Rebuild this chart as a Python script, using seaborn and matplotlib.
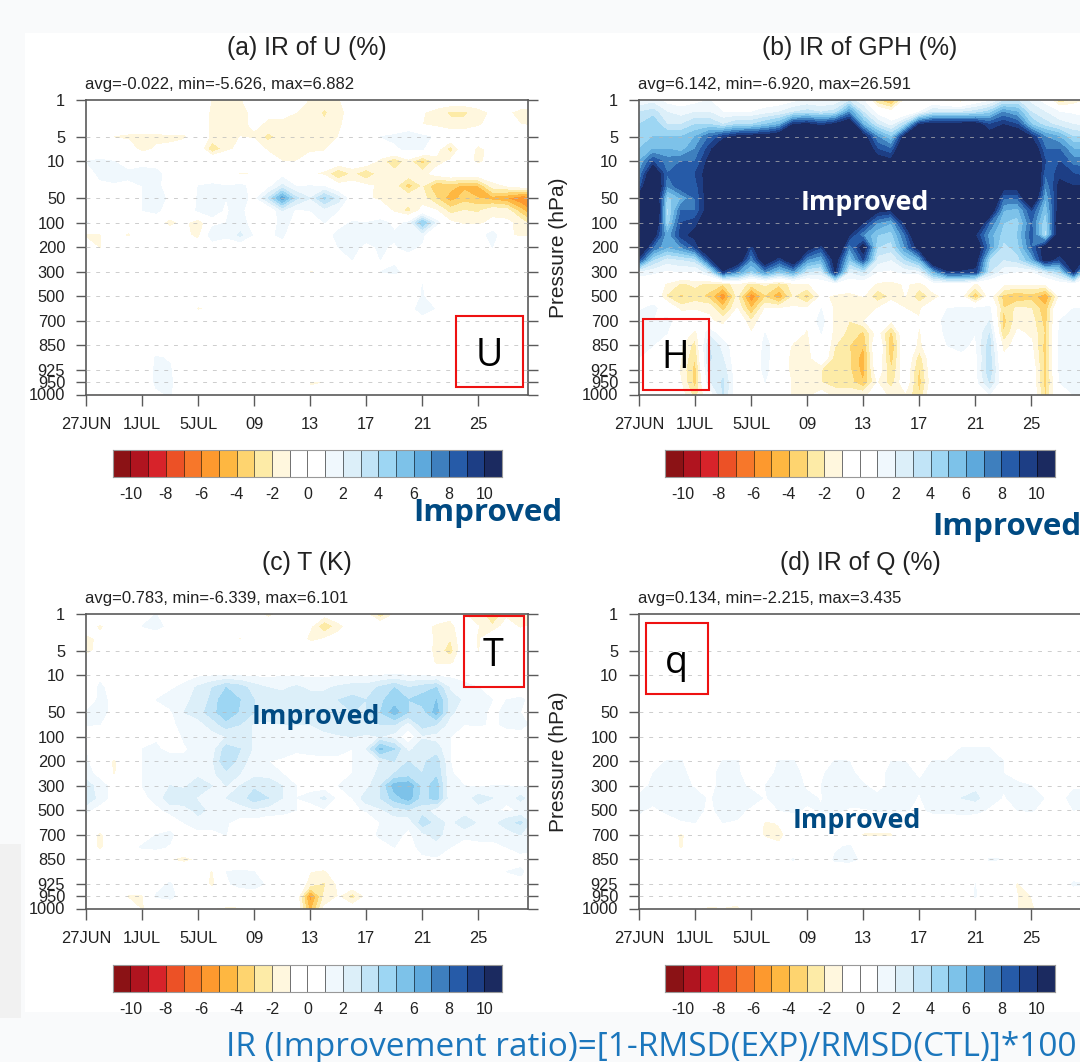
import numpy as np
import matplotlib
matplotlib.use('Agg')
import matplotlib.pyplot as plt
from matplotlib.colors import ListedColormap
from matplotlib.patches import Rectangle
import seaborn as sns

# axes values
pressure = [1, 2, 3, 5, 7, 10, 20, 30, 50, 70, 100, 150, 200, 250, 300, 400, 500, 600, 700, 800, 850, 900, 925, 950, 1000]
pressure_ticks = [1, 5, 10, 50, 100, 200, 300, 500, 700, 850, 925, 950, 1000]
days = list(range(33))
day_ticks = [0, 4, 8, 12, 16, 20, 24, 28]
day_labels = ['27JUN', '1JUL', '5JUL', '09', '13', '17', '21', '25']

# colour bar
bounds = list(range(-10, 11))
bar_labels = list(range(-10, 11, 2))
bar_colors = ['#8b1215', '#b0141f', '#d7232a', '#ec5126', '#f7772a', '#fd992e', '#feb741', '#fed46f',
              '#fdeba7', '#fff7de', '#ffffff', '#ffffff', '#f0f8fd', '#dceff9', '#c1e4f7', '#9dd6f3',
              '#7dc2e9', '#5ea9dc', '#3e7fbe', '#265ba8', '#1d3e85', '#1b2a60']

# improvement ratio, one row per pressure level, one column per day
ir_u = [
    [0,0,0,0,0,0,0,0,0,-1.1,-1.3,-1.2,0,0,0,0,-1.2,-1.4,-1.2,0,0,0,0,0,0,0,0,0,0,0,0,0,0],
    [0,0,0,0,0,0,0,0,0,-1.3,-1.5,-1.3,-.8,-.8,-.8,-1,-1.4,-2.2,-1.4,-.5,0,0,0,0,-.9,-1.5,-2.2,-2.2,-1.5,-.8,-.8,-1.4,-1.4],
    [0,0,0,0,0,0,0,0,0,-1.3,-1.3,-1.3,-.8,-1.2,-1.2,-1.2,-1.4,-1.8,-1.2,-.5,0,0,0,0,-1,-1.4,-1.7,-1.7,-1.2,-.5,-.5,-1,-1.2],
    [0,0,-1.1,-1.3,-1.4,-1.4,-1.2,-1.3,0,-1.3,-1.4,-1,-1.2,-2.4,-1.5,-1.3,-1.3,-1.3,-1,0,1,1,1.2,1.7,1.3,.8,0,0,0,-1,0,0,.6],
    [.8,0,0,0,-1.6,-.8,-.8,0,0,-3,-1.5,-.5,0,-1.3,-1.3,-1.2,-1.2,-1.2,0,0,0,.5,.8,1.2,1.1,-.5,-2.6,0,-1.4,-.5,-1,0,0],
    [1,1.2,1,.5,.8,.5,0,0,.6,.8,1,.9,.5,0,-1,-1,-.5,0,0,0,0,-1.5,-3,-1.5,-3.5,-1.5,-.8,-.5,-1.3,-.5,0,.8,.8],
    [.5,1.2,1.5,1.2,1.2,1.3,.5,0,0,0,0,-1.3,-1,0,.5,.5,-.8,-1.3,-3.2,-1.8,-3,-1.5,-1.5,-1.3,-1.5,-.5,0,0,0,0,0,.5,1.2],
    [.5,.8,.8,.8,1,1.1,.8,.5,1,1.2,1,1.3,.5,.5,2.2,.9,1,.8,-.5,-.5,-.8,-1.2,-1.6,-3.6,-2,-4,-3.6,-4.3,-4,-1.5,-1,-.5,0],
    [0,0,0,.6,1,1.4,.8,0,1.1,1.6,1,1.6,.5,3,6.5,3.2,2,4.2,2.5,0,-.8,-1.3,-1.5,-1.2,-1.6,-3,-4.6,-3.5,-4,-4.5,-5,-6,-6],
    [0,0,0,0,1,1.4,0,0,1.2,1.5,.8,1.7,-1,-.5,2,.8,1,1.5,1,0,0,0,-1.3,-2.5,-.6,-1,-2.5,-2,-2.2,-1.3,-1.5,-3.6,-5.5],
    [1.2,0,0,0,0,-.5,-1.5,-.6,-2,.5,1,1.4,.5,0,1.5,.5,.5,1,.5,1.1,1,1.3,.8,1.1,5,1.5,-.8,-1.2,-1.2,-.8,-.8,-1.3,-3],
    [-1.3,-1.1,0,-1.3,0,0,0,-.5,-1.6,2,1.3,2.2,.8,.8,1.2,0,0,.5,1.3,1.5,1.3,1.7,1.1,1.2,1.3,-1.2,.5,0,0,1.8,-.8,-1.2,-1.1],
    [0,-1.2,.5,0,0,.8,0,0,0,0,0,0,.5,.9,.5,0,-.8,0,1,1.2,.8,1.1,.9,1.3,.8,.5,0,0,.5,1,0,0,0],
    [0,0,0,0,0,0,.9,0,0,.5,0,0,.8,0,0,0,-.5,-.8,.5,1,.5,1,.9,.5,.5,.5,0,0,0,1,.5,0,0],
    [0,0,0,0,0,0,1,0,.5,1,0,0,0,0,0,0,-1.1,-.8,0,.6,.6,1,1.1,.8,1,.8,.5,.5,.8,0,0,-.6,0],
    [0,0,0,0,0,0,.5,0,.5,.5,0,.5,1,.5,0,0,0,0,.5,.9,.5,0,.5,.5,1,.6,0,0,0,0,-.5,-.8,0],
    [1,0,0,0,0,0,0,0,0,0,0,0,0,0,0,0,0,.5,0,.5,.5,0,-1,0,1.1,0,0,-.9,0,0,0,0,0],
    [0,0,0,.5,0,.5,0,0,-1.2,-.7,0,0,0,0,0,0,.5,.9,.5,.5,0,0,.5,.5,1.5,.9,0,0,0,0,0,0,0],
    [0,0,0,.8,0,0,0,-.8,0,0,0,0,0,0,0,0,.9,.7,0,0,-1.1,0,0,.9,.5,.9,0,0,0,0,0,0,0],
    [0,0,0,.7,0,0,0,0,0,0,0,0,0,0,0,0,0,0,0,0,0,0,0,0,0,.6,.7,0,0,0,0,0,0],
    [0,0,0,0,0,0,0,0,0,0,0,0,0,0,0,0,0,0,0,0,0,0,0,0,0,0,0,0,0,0,0,0,0],
    [0,0,0,0,0,1.1,.9,0,0,0,0,0,0,0,0,-.9,0,0,0,0,0,0,0,0,0,0,0,0,0,0,0,0,0],
    [0,-.9,0,0,0,1.2,1.1,0,0,0,0,0,0,0,0,-.9,0,0,0,0,0,0,0,0,0,0,0,0,0,0,0,0,0],
    [0,-.9,0,0,0,1.2,1.2,0,0,0,0,0,0,0,0,0,-1.1,-1,0,0,0,0,0,0,0,0,0,0,0,0,0,0,0],
    [0,-1.1,0,0,0,.8,1.1,0,0,0,0,0,0,0,0,0,-.8,0,0,0,0,0,0,0,0,0,0,0,0,0,0,0,0],
]

ir_gph = [
    [1,1.5,.5,.3,.5,1,.5,-.5,-1.2,0,0,.5,1,.8,1,2.5,1,-3,-4.5,-.8,-.5,-.5,-1.6,-1.8,-.3,.5,2.5,3,1.5,.3,-3,-2,-1],
    [3,3.5,2,1.5,2,2,1,1,1,1.5,2,3,3.5,3,3.5,7,3,.5,-.5,-.5,1,3,3,3,3.5,4.5,7,6,3,2,1,.8,.5],
    [4,5,3,3,4,4,3,4,4,5,6,10,10.5,9.5,10.5,12,6,3,1.5,4,10,11,11,11,11,9,10,9,5,3.5,2.5,2,1.5],
    [4.5,5,5,5,6,8,9.5,10.5,11,11,12,14,14,14,14,15,11,7,5,11,15,15,15,15,14,11,12,12,10,7,6,4,4],
    [5,6,6,5.5,7,9.5,12,13,14,14,15,16,16,16,16,15,12,9,8,13,16,16,16,16,15,15,15,14,12,8,8,6,6],
    [6,9,7.5,8,8,10.5,14,15,16,16,16,16,17,17,17,16,14,11,10.5,15,17,17,17,17,16,16,16,15,13,9,9,7.5,7.5],
    [7,12,8,8.5,9,10.8,15,16,17,17,17,17,18,18,18,18,16,14,13,16,18,18,18,18,17,17,17,16,14,8,9.5,9,8.5],
    [8,14,7,9,8.5,11,15,17,18,18,18,18,19,19,19,18,17,15,15,17,19,19,19,19,18,17,11,11,15,7,10.5,10,10],
    [11,14,4.5,6,8,11,15,17,19,19,19,19,19,19,19,18,16,14,13,15,19,19,19,19,18,14,8,8,13,6,10.5,10.5,10.5],
    [13,15,3.5,8,8,11,15,17,19,19,19,19,19,19,18,16,13,10.5,10,12,18,19,19,19,17,12,6,5.5,9,5,11,12,12],
    [15,14,4,9,9.5,11.5,16,18,19,19,19,19,19,18,16,12,10,7,6,10.5,16,19,19,17,13,8,5,4.5,8,4,12,13,13],
    [15,11,6,9.5,10.5,13,17,17,17,18,18,17,16,16,13,10,7,5,4.5,8,13,17,17,13,10,6.5,4.5,5,8.5,3.5,12,14,14],
    [13,8,6,7,9,13,16,14,9,14,13,13,11,9,14,7,11,4,3.5,7,11,15,16,14,12,7,3.5,4.5,8,11,12,14,13],
    [9,4,2.5,3,3.5,9,14,12,7,12,9,12,7,6,11,5,9,2.5,2,4,6,13,14,13,11,4,3,3.5,6,11,9,12,9],
    [1.5,1.2,.8,1,.8,2.5,9.5,7,4.5,7,5,6.5,3,2.5,10,2,3,1,.8,1.3,1.5,6,9.5,9.5,9.5,3,1.3,1,.8,2.5,4,10,2],
    [0,0,-1.2,-2.2,-1.8,-2.3,-3,-1.2,-2.5,-1.8,-2.8,-1.5,-1.2,0,0,0,0,-1.3,-1.6,-.8,-1.5,0,0,0,-1.2,-.5,-.8,-1,-1,-1,0,0,0],
    [-1,.5,-2.2,-3.2,-2.6,-3.4,-6,-1.8,-6,-3.2,-5,-2,-3.5,-.8,-1.2,-1.5,-1,-2.8,-1.8,-1,-2.8,-1.5,-.5,-.8,-4,-.5,-3.4,-4,-3.5,-5,-1,-.5,-.5],
    [.9,1.2,.5,-1.5,-1.2,-1.2,-3.5,-1,-4,-1,-1,-.8,-.9,1,-1.4,-1.8,-1.2,-1,.5,-1,-1.2,0,1,1.2,1.2,1.3,-3,-1.7,-2,-3.8,.8,1,1],
    [1.3,1,1.2,.6,.5,-.8,-1.5,.3,-2,0,0,-.5,-.8,1.8,-1.6,-2,-1.2,.5,-1,-.8,-.9,.6,1.3,1.7,1.2,2,-3.5,-1.4,-1.5,-3.5,1,1.2,1.2],
    [1.4,1.2,1,.5,-1.6,1.8,0,0,-1,1,0,-.3,-1.2,1,-1.6,-2.2,-3.3,-.5,-3.4,.5,-1.2,.5,1.2,1.6,1,3,-3,-.8,-1.2,-3.2,1.2,1.3,1.4],
    [1.2,1,.7,-1,-2.4,3,1.6,0,-.8,1.5,0,-1.2,-1.5,.7,-2,-3,-4,.6,-4,.4,-1.4,.5,1,1.2,.8,3.5,-1.5,-.5,-.8,-3.5,1.3,1.4,1.4],
    [1,.8,.5,-1,-3,3.2,2,0,-.3,1.4,0,-1.5,-1.6,.4,-2.6,-2.8,-4.6,.3,-3.6,.3,-2.6,.3,.8,.8,.6,3.5,-.8,-.3,-.5,-3.5,1.4,1.5,1.5],
    [.8,.5,.2,-1.2,-3.5,2.6,2.6,0,0,1.3,0,-1.5,-1.6,-2,-2.8,-2.8,-4.5,0,-3,0,-3.2,.2,.5,.6,.5,3.8,-.5,0,0,-3.4,1.2,1.4,1.8],
    [.5,.3,0,-1,-3.5,1.8,3.2,0,0,1,0,-1.2,-1.3,-2,-2.5,-2.5,-4,-1,-2.6,0,-3.5,0,.3,.4,.5,3,0,0,0,-3.5,1,1.2,1.4],
    [-1,0,0,-.5,-2.5,0,3,0,-.8,.8,0,-1.2,-1.4,-.5,-1.5,-1.5,-1.3,-.5,-1.3,-1.2,-3,.5,.5,.5,.3,1,0,0,.3,-3.2,.8,1,1.2],
]

ir_t = [
    [0,0,0,0,1,1,.5,.5,.5,0,0,0,-.8,-1.2,-.8,0,-.8,-.5,0,0,-.8,-2.8,-1,-.8,0,0,-.5,-1,-1.3,-3.5,-1.3,-1.5,-1.5],
    [-.5,-1.2,-.5,0,1,1.2,.8,0,0,0,-.8,0,0,-.5,0,0,-.8,-3,-1.5,-.3,0,0,0,0,-.5,-1.3,-1.5,0,-1,-1.8,-.5,-1.2,-.8],
    [-1.3,-.8,0,0,.5,.5,1,0,0,0,0,-1.2,0,0,-1.1,0,-1.4,-1,-.5,0,0,-.6,0,0,0,-1.4,-2,0,-1.2,0,0,0,0],
    [-1.5,-.5,0,-.8,0,0,0,0,0,0,0,0,0,0,0,0,0,0,0,0,0,0,0,0,0,-1.5,-2.5,0,-1.1,0,0,0,0],
    [0,0,0,0,0,0,-.8,0,0,0,0,0,0,0,0,0,0,0,0,0,0,0,0,0,0,-1.2,-1.3,0,0,0,0,0,0],
    [0,.7,.5,0,0,0,0,.5,.8,.9,1,.9,.8,.8,.9,.9,.8,.8,.9,.9,.9,1,1.1,1,.9,.8,.8,.6,.5,.3,0,0,0],
    [0,1.2,.5,1,.3,.5,.8,1.3,2.2,3,4,3.5,2.5,2,1.8,2.2,1.8,1.8,2.2,2.5,2.5,3.2,4,3,3.5,4,1.8,1.3,1,.5,.3,.3,.3],
    [.3,1.2,.8,1,.5,1,1.5,1.7,2.4,3.2,5,4,3,2.8,2.5,3,2.5,2.5,3,3.3,3,3.8,4.5,4,4.5,5,2.5,1.8,1.2,1,1,1.2,.5],
    [1,1.2,.8,.5,1,.5,.8,2,2.6,3.5,5,3.8,3,2.5,2.2,2.5,2.5,2.5,3,3,3,4,5.5,4,3.5,5.5,2.2,1.5,1.3,.8,1.2,1,.5],
    [1.1,1,.5,.3,1,.5,.5,1.6,1.5,2.5,3.5,3,1.8,1.8,2,2,2,2.5,3,3,2.8,3,3,1.5,3.5,3,1.5,1,1.2,.8,1.2,1.5,.5],
    [0,0,0,.3,.9,.8,0,1.2,1.6,1.5,2,2.8,1.8,1.3,1.6,1.5,1.5,1.6,1.8,2,1.8,2,1.5,.3,1.8,1.6,1,.5,-.5,.5,.5,.3,.3],
    [1,.5,0,.3,1,1.2,.6,.8,1.5,1.5,3.5,3,1.8,1.5,1.5,1.2,1.6,1.8,1.5,1,2,5.2,4,1.6,2.8,2.5,1,.3,0,0,0,.5,1.2],
    [1.1,.4,-1.3,.3,1,1.5,1.6,1.4,1.6,1.8,4,2.5,1.4,1,.8,.5,.3,.3,.5,1,1.5,2,3,3,2.8,3.5,1,.3,0,0,0,.6,1],
    [1.5,.5,-1.2,.3,1,1.6,2,1.6,1.5,1.8,2.6,2,1.6,1.5,1,.4,.3,.3,.5,1,1.6,2.2,3,3.3,3,3.8,1.1,.6,.3,.5,.5,.8,1],
    [2.5,1.5,.5,.3,1,1.8,2,1.7,3,2,2,2,2.8,2.8,2,1,.5,.3,1,1.2,1.6,3,5.5,5.8,3.5,4.5,1.1,1,.8,1,1,.9,1],
    [3,1.5,.6,.3,.8,1.2,2.8,3,1.8,2,2,2.5,3.5,3,2,1,1.4,2.2,.6,1,2.6,3,4.5,5.5,3.5,4.5,1.2,1.3,2.5,2,1.2,2.3,1.2],
    [1.2,.5,.3,.2,.5,.8,1.2,1.3,2.5,1.5,1.2,1.5,1.8,1.5,1.5,1,.3,.8,.8,.6,1.2,1.8,2.5,2.8,2.5,1.3,1.2,1.3,1.5,1.2,.8,1.1,1],
    [.3,0,0,0,.3,-1.2,.5,1,1.3,1.6,1.1,.6,.5,.3,0,0,0,0,0,0,-1.1,1,1.4,1.2,3.6,2.6,1.6,2.8,1.8,1.6,2.6,3.2,1.4],
    [0,-1.3,0,0,.5,1,1.2,.3,.8,.5,1,.8,.4,.2,0,0,0,0,0,.3,.5,1.2,1.3,.8,1.6,2.5,1.2,1.2,1.2,1.2,1.4,2,1.3],
    [0,-1.3,0,.6,1.1,1.2,.9,.4,0,0,0,.7,.5,-1,-.8,0,0,0,0,0,0,.5,1,.6,1.3,1.4,1,.6,.8,.8,1,1.2,1.2],
    [0,0,0,0,0,0,-1,-1.5,-.8,0,.3,.3,0,0,0,0,0,0,0,0,0,0,.5,.4,.8,.9,.6,.3,.3,.5,.7,.8,.5],
    [0,0,0,0,0,0,.4,.6,0,-1.2,1,1.1,1,1,0,0,-1,-1.2,-.3,0,0,0,0,0,.7,.5,.2,.1,.3,.7,1,1.1,.7],
    [0,0,0,0,0,.6,1.1,.3,0,-1.4,.9,1.2,1.2,.9,.5,0,-1.5,-2.2,-.8,0,0,0,0,0,.8,.5,0,0,0,.5,1,.8,.5],
    [0,0,0,-1.2,-1.2,1.1,1.3,.5,0,0,.3,.5,.7,.9,.3,0,-5.6,-1.8,-1,-2.6,-.8,0,0,0,.7,.2,0,0,0,0,.4,.3,.3],
    [0,0,0,0,-1.2,0,0,0,0,-1,-1.2,-1.2,-.7,0,0,0,-4.5,-.8,0,-.3,0,0,0,-.5,0,0,-.5,-.8,0,0,0,0,0],
]

ir_q = [[0] * 33 for level in range(11)] + [
    [0,0,0,0,0,0,0,0,0,0,0,0,0,0,0,0,0,0,0,0,0,0,0,1.1,1.1,1.1,0,0,0,0,0,0,0],
    [0,0,1.1,1.1,0,0,1.1,1.1,0,0,1.1,1.1,0,0,1.1,1,0,0,1,1,0,1.1,1.1,1.1,1.1,1.1,1,.5,0,0,0,0,0],
    [.4,1,1.2,1.2,.7,.8,1.2,1.2,.3,.5,1.3,1.3,.7,.9,1.3,1.2,.7,.7,1.2,1.2,.9,1.2,1.2,1.3,1.3,1.2,1,.8,.5,.5,.5,.5,.5],
    [.8,1.1,1.3,1.3,.9,.8,1.2,1.3,.8,1,1.6,1.6,.8,1,1.5,1.4,1.1,.7,1.2,1.2,1.1,1.5,1.5,1.9,1.8,1.3,1.1,1.1,1,.5,.7,.9,.9],
    [1.1,1.3,1.2,2,1.3,.9,1.3,1.6,1.4,.9,1.5,1.9,1.3,.9,2,1.7,1.9,1.2,1.3,1.4,.9,1.7,1.9,2,2.2,1.5,.9,1.3,1.8,.9,.8,1.2,1.3],
    [1.1,.8,1.2,1.8,1.3,.8,1.3,1.3,.8,.6,1,1.2,.8,1.1,1.3,.8,.8,1.1,1.2,1.1,.7,1.3,1.3,1.5,1.4,.8,.8,1,1.1,.6,.7,1,.9],
    [.8,.3,.5,.8,1,.5,1,.9,.3,-1.2,-.9,0,0,0,0,0,0,0,0,0,0,0,0,0,0,0,0,0,0,.3,.5,.3,0],
    [0,-1.1,0,-1.3,0,0,-1.1,0,0,-1.3,-1.3,-.5,0,-.5,-1.1,0,-1.2,-1.2,-1.2,0,0,-1,0,0,0,0,0,0,0,0,0,0,-1],
    [0,0,0,-1.2,0,0,0,0,0,0,-.8,0,0,0,.8,1.2,0,0,0,0,-1,0,.5,0,0,0,0,0,0,0,0,0,0],
    [0,0,0,0,0,0,0,0,0,0,0,1.1,0,0,1.2,1.3,.8,0,0,0,0,0,0,0,0,1.1,1,0,0,0,0,0,0],
    [0,0,0,0,0,0,0,0,0,-.9,0,0,0,0,0,0,0,0,0,0,-.9,0,0,0,0,0,0,0,0,0,0,0,0],
    [0,0,0,0,0,0,0,0,0,0,0,0,0,0,0,0,0,0,0,0,0,0,0,0,1,0,0,-1.2,0,0,0,1.2,1],
    [0,0,-.5,0,0,0,0,0,0,0,0,0,0,0,0,0,0,0,0,0,0,0,0,0,1.1,0,0,-1,-1,0,0,0,0],
    [0,0,0,0,-.9,-1.2,-1.1,-1.4,0,0,0,0,0,0,0,0,-1.2,0,0,0,-1,0,0,0,0,0,0,-1,-1.3,0,0,0,0],
]

titles = ['(a) IR of U (%)', '(b) IR of GPH (%)', '(c) T (K)', '(d) IR of Q (%)']
stats = ['avg=-0.022, min=-5.626, max=6.882', 'avg=6.142, min=-6.920, max=26.591',
         'avg=0.783, min=-6.339, max=6.101', 'avg=0.134, min=-2.215, max=3.435']
fields = [ir_u, ir_gph, ir_t, ir_q]
letters = ['U', 'H', 'T', 'q']

W, H = 1080, 1062
sns.set_style('white')
plt.rcParams['font.family'] = ['Liberation Sans', 'DejaVu Sans']
plt.rcParams['axes.unicode_minus'] = False
fig = plt.figure(figsize=(W / 100, H / 100), dpi=100, facecolor='#f9fafb')


def px_rect(x0, y0, x1, y1):
    # pixel box (y down) to figure fraction
    return [x0 / W, 1 - y1 / H, (x1 - x0) / W, (y1 - y0) / H]


def add_box(x0, y0, x1, y1, zorder=-5, **kw):
    l, b, w, h = px_rect(x0, y0, x1, y1)
    fig.add_artist(Rectangle((l, b), w, h, transform=fig.transFigure, zorder=zorder, **kw))


def add_text(x, y, s, **kw):
    return fig.text(x / W, 1 - y / H, s, ha=kw.pop('ha', 'center'), va=kw.pop('va', 'center'), **kw)


# screenshot backdrop
add_box(25, 33, 1080, 1012, facecolor='white', edgecolor='none')
add_box(0, 844, 21, 1018, facecolor='#f1f1f1', edgecolor='none')

panel_x = [86, 639, 86, 639]
panel_y = [100, 100, 614, 614]
bar_x = [112.7, 665, 112.7, 665]
bar_y = [450, 450, 965, 965]
cmap = ListedColormap(bar_colors)
spine_color = '#5a5a5a'

for i, field in enumerate(fields):
    ax = fig.add_axes(px_rect(panel_x[i], panel_y[i], panel_x[i] + 441.5, panel_y[i] + 294.5))
    ax.contourf(days, range(len(pressure)), np.array(field), levels=bounds, colors=bar_colors[1:-1],
                extend='both').cmap.set_over(bar_colors[-1])
    ax.set_xlim(0, 31.5)
    ax.set_ylim(len(pressure) - 1, 0)
    ytick_pos = [pressure.index(p) for p in pressure_ticks]
    ax.set_yticks(ytick_pos, [str(p) for p in pressure_ticks])
    ax.set_xticks(day_ticks, day_labels)
    ax.tick_params(axis='y', left=True, right=True, length=7.5, width=1, color=spine_color, pad=7.5,
                   labelsize=11.8, labelcolor='#222222')
    ax.tick_params(axis='x', bottom=True, length=8, width=1, color=spine_color, pad=8.5,
                   labelsize=11.8, labelcolor='#222222')
    for y in ytick_pos[1:-1]:
        ax.axhline(y, color='#b8b8b8', lw=0.7, alpha=0.7, dashes=(4, 6), zorder=3)
    sns.despine(ax=ax, top=False, right=False)
    for spine in ax.spines.values():
        spine.set_color(spine_color)
        spine.set_linewidth(1.2)
    if i % 2 == 1:
        ax.set_ylabel('Pressure (hPa)', fontsize=15, color='#222222', labelpad=10)
    # title and stats line
    add_text(panel_x[i] + 221, panel_y[i] - 53 + (1 if i < 2 else 2), titles[i], fontsize=17.8, color='#222222')
    add_text(panel_x[i] - 1, panel_y[i] - 16, stats[i], ha='left', fontsize=12, color='#222222')

    # discrete colour bar as one row heatmap
    cax = fig.add_axes(px_rect(bar_x[i], bar_y[i], bar_x[i] + 389.5, bar_y[i] + 27))
    mids = [[b + 0.5 for b in range(-11, 11)]]
    sns.heatmap(mids, ax=cax, cmap=cmap, vmin=-11, vmax=11, cbar=False, xticklabels=False, yticklabels=False,
                linewidths=0.7, linecolor=(0, 0, 0, 0.55))
    cax.set_xticks([b + 11 for b in bar_labels], [str(b) for b in bar_labels])
    cax.tick_params(axis='x', bottom=False, pad=3.5, labelsize=11.5, labelcolor='#222222', rotation=0)
    for spine in cax.spines.values():
        spine.set_visible(True)
        spine.set_color('#999999')
        spine.set_linewidth(0.8)

# red annotation boxes with the variable letter
red_boxes = [(456, 316, 523, 387), (643, 319, 709, 390), (464, 616, 524, 687), (646, 623, 708, 694)]
letter_pos = [(489, 356), (675, 358), (493, 656), (676, 663)]
for box, pos, letter in zip(red_boxes, letter_pos, letters):
    add_box(*box, zorder=10, facecolor='none', edgecolor='#ee1111', linewidth=1.5)
    add_text(pos[0], pos[1], letter, fontsize=27, color='black', family='Open Sans', zorder=11)

# "Improved" call outs
improved = [(488, 513, 22.5, '#004a82'), (1007, 527, 22.5, '#004a82'), (865, 203, 19.3, 'white'),
            (316, 717, 19.3, '#004a82'), (857, 821, 19.3, '#004a82')]
for x, y, size, color in improved:
    add_text(x, y, 'Improved', fontsize=size, color=color, family='Open Sans', fontweight='bold', zorder=11)

add_text(651, 1047, 'IR (Improvement ratio)=[1-RMSD(EXP)/RMSD(CTL)]*100', fontsize=24, color='#1b76bc',
         family='Open Sans', zorder=11)

fig.savefig('out.png', dpi=100, facecolor=fig.get_facecolor())
